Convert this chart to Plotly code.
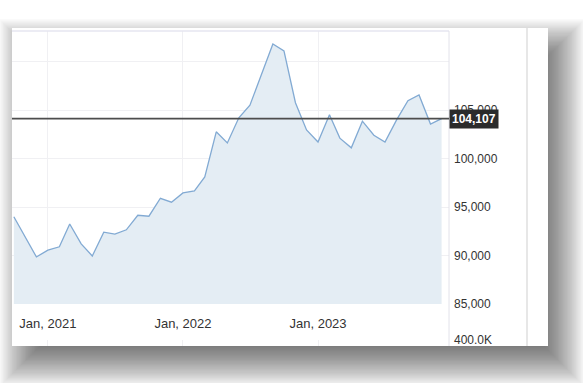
import plotly.graph_objects as go

# ---------------- data ----------------
months = [
    "2020-10-01", "2020-11-01", "2020-12-01",
    "2021-01-01", "2021-02-01", "2021-03-01", "2021-04-01", "2021-05-01", "2021-06-01",
    "2021-07-01", "2021-08-01", "2021-09-01", "2021-10-01", "2021-11-01", "2021-12-01",
    "2022-01-01", "2022-02-01", "2022-03-01", "2022-04-01", "2022-05-01", "2022-06-01",
    "2022-07-01", "2022-08-01", "2022-09-01", "2022-10-01", "2022-11-01", "2022-12-01",
    "2023-01-01", "2023-02-01", "2023-03-01", "2023-04-01", "2023-05-01", "2023-06-01",
    "2023-07-01", "2023-08-01", "2023-09-01", "2023-10-01", "2023-11-01", "2023-12-01",
]
values = [
    94000, 91900, 89850,
    90550, 90900, 93250, 91200, 89950, 92400, 92200, 92650, 94150, 94050, 95900, 95500,
    96450, 96650, 98100, 102750, 101600, 104200, 105500, 108600, 111800, 111100, 105750, 102950,
    101700, 104500, 102100, 101100, 103850, 102400, 101700, 103950, 105950, 106550, 103550, 104107,
]
year_ticks = ["2021-01-01", "2022-01-01", "2023-01-01"]
year_labels = ["Jan, 2021", "Jan, 2022", "Jan, 2023"]
price_ticks = [85000, 90000, 95000, 100000, 105000, 110000]
price_labels = ["85,000", "90,000", "95,000", "100,000", "105,000", ""]
volume_ticks = [400000]
volume_labels = ["400.0K"]
current_value = values[-1]

# ---------------- geometry helpers (pixels -> paper) ----------------
W, H = 583, 383
def fx(px):
    return px / W
def fy(py):
    return 1 - py / H

CARD = (12, 28, 548, 346)      # left, top, right, bottom (px)
PLOT_L, PLOT_R = 12, 449
PLOT_T, PLOT_B = 31, 304
VOL_T = 339.5

FONT = "Liberation Sans, Arial, sans-serif"
GRID = "#f0f0f3"

fig = go.Figure()
fig.add_trace(go.Scatter(
    x=months, y=values, mode="lines",
    line=dict(color="#82aad3", width=1.3),
    fill="tozeroy", fillcolor="#e4edf4",
    hoverinfo="skip", xaxis="x", yaxis="y",
))
fig.add_trace(go.Scatter(x=[], y=[], xaxis="x2", yaxis="y2", hoverinfo="skip"))

shapes = []
# soft drop shadow around the card
dx, dy, R, N = 12, 16, 25, 40
for k in range(N):
    s = -R + 2 * R * k / (N - 1)
    shapes.append(dict(
        type="rect", xref="paper", yref="paper", layer="below",
        x0=fx(CARD[0] + dx - s), x1=fx(CARD[2] + dx + s),
        y0=fy(CARD[1] + dy - s), y1=fy(CARD[3] + dy + s),
        line=dict(width=0), fillcolor="rgba(0,0,0,0.021)",
    ))
# white card
shapes.append(dict(
    type="rect", xref="paper", yref="paper", layer="below",
    x0=fx(CARD[0]), x1=fx(CARD[2]), y0=fy(CARD[1]), y1=fy(CARD[3]),
    line=dict(width=0), fillcolor="white",
))
# plot-area frame (top + right) and divider
shapes.append(dict(type="line", xref="paper", yref="paper",
                   x0=fx(PLOT_L), x1=fx(PLOT_R), y0=fy(PLOT_T), y1=fy(PLOT_T),
                   line=dict(color="#e6e6f0", width=1.5)))
shapes.append(dict(type="line", xref="paper", yref="paper",
                   x0=fx(PLOT_R), x1=fx(PLOT_R), y0=fy(PLOT_T), y1=fy(CARD[3]),
                   line=dict(color="#e2e2ea", width=1)))
shapes.append(dict(type="line", xref="paper", yref="paper",
                   x0=fx(527), x1=fx(527), y0=fy(CARD[1]), y1=fy(CARD[3]),
                   line=dict(color="#cfcfcf", width=1)))
# current value line
shapes.append(dict(type="line", xref="paper", yref="y",
                   x0=fx(PLOT_L), x1=fx(PLOT_R), y0=current_value, y1=current_value,
                   line=dict(color="#4d4d4d", width=1.6)))

fig.update_layout(
    width=W, height=H,
    margin=dict(l=0, r=0, t=0, b=0, pad=0, autoexpand=False),
    paper_bgcolor="white", plot_bgcolor="rgba(0,0,0,0)",
    showlegend=False,
    font=dict(family=FONT, color="#333333"),
    shapes=shapes,
    xaxis=dict(
        type="date", domain=[fx(PLOT_L), fx(PLOT_R)], anchor="y",
        range=["2020-09-26", "2023-12-21"],
        tickmode="array", tickvals=year_ticks, ticktext=year_labels,
        tickfont=dict(size=13, color="#333333"),
        showgrid=True, gridcolor=GRID, gridwidth=1,
        ticks="", ticklabelstandoff=10, zeroline=False, showline=False,
        automargin=False,
    ),
    yaxis=dict(
        domain=[fy(PLOT_B), fy(PLOT_T)], anchor="x", side="right",
        range=[85000, 113144],
        tickmode="array", tickvals=price_ticks, ticktext=price_labels,
        tickfont=dict(size=12, color="#333333"),
        showgrid=True, gridcolor=GRID, gridwidth=1,
        ticks="", ticklabelstandoff=4, zeroline=False, showline=False,
        automargin=False,
    ),
    xaxis2=dict(
        type="date", domain=[fx(PLOT_L), fx(PLOT_R)], anchor="y2",
        range=["2020-09-26", "2023-12-21"],
        tickmode="array", tickvals=year_ticks, showticklabels=False,
        showgrid=True, gridcolor=GRID, ticks="", zeroline=False, showline=False,
        automargin=False,
    ),
    yaxis2=dict(
        domain=[fy(CARD[3]), fy(VOL_T)], anchor="x2", side="right",
        range=[0, 400000],
        tickmode="array", tickvals=volume_ticks, ticktext=volume_labels,
        tickfont=dict(size=12, color="#333333"),
        showgrid=True, gridcolor="#ebebef", ticks="", ticklabelstandoff=4,
        zeroline=False, showline=False, automargin=False,
    ),
    annotations=[dict(
        xref="paper", yref="y", x=fx(PLOT_R), y=current_value,
        xanchor="left", yanchor="middle", showarrow=False,
        text="<b>" + f"{current_value:,}" + "</b>",
        font=dict(family=FONT, size=12, color="white"),
        bgcolor="#2b2b2b", borderpad=2,
    )],
)

fig.write_html("out.html")
